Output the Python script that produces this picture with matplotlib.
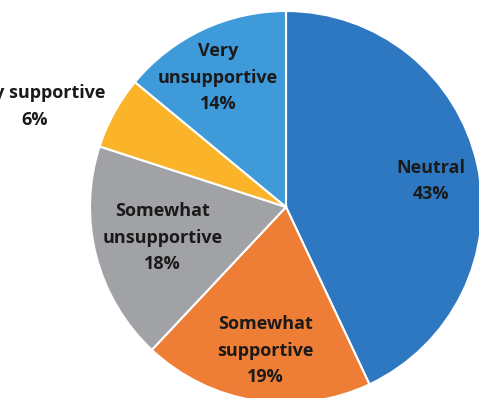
import numpy as np
import matplotlib
matplotlib.use("Agg")
import matplotlib.pyplot as plt

# slices, clockwise from 12 o'clock
labels = ["Neutral", "Somewhat\nsupportive", "Somewhat\nunsupportive",
          "Very supportive", "Very\nunsupportive"]
shares = [43, 19, 18, 6, 14]
colors = ["#2E78C2", "#EE7E35", "#A0A2A5", "#FBB42A", "#3F9ADA"]

# label placement (fraction of radius, angle shift in degrees)
label_pos = [(0.75, -2.5), (0.74, 0.7), (0.65, -0.5), (1.38, 7.0), (0.745, 2.6)]

W, H = 479, 398
cx, cy, R = 286, 207, 196

fig = plt.figure(figsize=(W / 100, H / 100), dpi=100)
ax = fig.add_axes([0, 0, 1, 1])

wedges, _ = ax.pie(shares, colors=colors, startangle=90, counterclock=False,
                   radius=1.0,
                   wedgeprops=dict(edgecolor="white", linewidth=1.5))

for w, lab, pct, (d, shift) in zip(wedges, labels, shares, label_pos):
    ang = np.deg2rad((w.theta1 + w.theta2) / 2 + shift)
    ax.text(d * np.cos(ang), d * np.sin(ang), f"{lab}\n{pct}%",
            ha="center", va="center", fontsize=13, fontweight="bold",
            family=["Open Sans", "DejaVu Sans"], color="#1a1a1a",
            linespacing=1.6)

ax.set_xlim(-cx / R, (W - cx) / R)
ax.set_ylim(-(H - cy) / R, cy / R)
ax.set_aspect("equal", adjustable="box")
ax.axis("off")

fig.savefig("out.png", dpi=100)
